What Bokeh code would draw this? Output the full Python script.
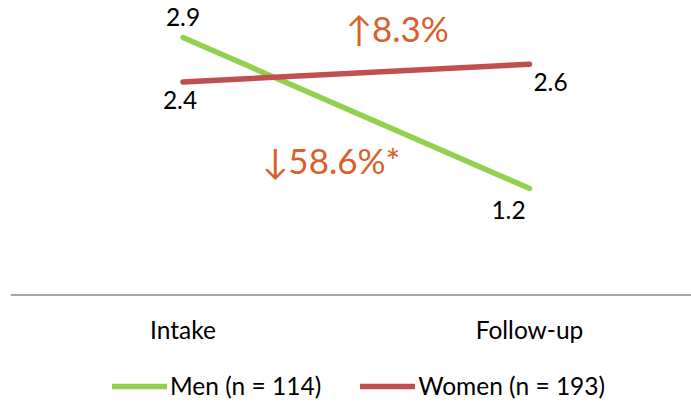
from bokeh.plotting import figure
from bokeh.models import Range1d, Legend, LegendItem, Span
from bokeh.embed import file_html
from bokeh.resources import INLINE
from bokeh.core.properties import value

# ---- data ----
categories = ["Intake", "Follow-up"]
men = [2.9, 1.2]
women = [2.4, 2.6]
men_label = "Men (n = 114)"
women_label = "Women (n = 193)"
men_significant = True
women_significant = False

FONT = "Lato"
GREEN = "#92D050"
RED = "#C0504D"
ORANGE = "#D9602A"
AXIS_GREY = "#868686"
LABEL_SIZE = "24.5px"
ANNOT_SIZE = "35px"

xs = list(range(len(categories)))

p = figure(width=691, height=402, output_backend="svg", toolbar_location=None,
           x_range=Range1d(-0.4978, 1.4675), y_range=Range1d(-1.2104, 3.3167),
           x_axis_location=None, y_axis_location=None,
           min_border_left=10, min_border_right=0, min_border_top=0, min_border_bottom=0)
p.outline_line_color = None
p.grid.visible = False
p.background_fill_color = "white"
p.border_fill_color = "white"

# category axis baseline at value 0
p.add_layout(Span(location=0, dimension="width", line_color=AXIS_GREY, line_width=1.5))
# category labels
p.text(x=xs, y=[0] * len(xs), text=categories, y_offset=34,
       text_align="center", text_baseline="middle", text_font=value(FONT),
       text_font_size=LABEL_SIZE, text_color="black")

r_men = p.line(xs, men, line_color=GREEN, line_width=5.5, line_cap="round")
r_women = p.line(xs, women, line_color=RED, line_width=5.5, line_cap="round")

# data labels
p.text(x=xs, y=men, text=[f"{v:.1f}" for v in men], x_offset=[0, -21], y_offset=[-21, 22],
       text_align="center", text_baseline="middle", text_font=value(FONT),
       text_font_size=LABEL_SIZE, text_color="black")
p.text(x=xs, y=women, text=[f"{v:.1f}" for v in women], x_offset=[-3, 21], y_offset=[18, 18],
       text_align="center", text_baseline="middle", text_font=value(FONT),
       text_font_size=LABEL_SIZE, text_color="black")

# change annotations
def change_text(vals, sig):
    pct = (vals[-1] - vals[0]) / vals[0] * 100
    arrow = "\u2191" if pct >= 0 else "\u2193"
    return f"{arrow}{abs(pct):.1f}%" + ("*" if sig else "")

mid_x = sum(xs) / len(xs)
p.text(x=[mid_x], y=[sum(women) / len(women)], text=[change_text(women, women_significant)],
       x_offset=41, y_offset=-45, text_align="center", text_baseline="middle",
       text_font=value(FONT), text_font_size=ANNOT_SIZE, text_color=ORANGE)
p.text(x=[mid_x], y=[sum(men) / len(men)], text=[change_text(men, men_significant)],
       x_offset=-25, y_offset=47.5, text_align="center", text_baseline="middle",
       text_font=value(FONT), text_font_size=ANNOT_SIZE, text_color=ORANGE)

legend = Legend(items=[LegendItem(label=men_label, renderers=[r_men]),
                       LegendItem(label=women_label, renderers=[r_women])],
                orientation="horizontal", location=(102, 2),
                glyph_width=55, glyph_height=20, label_standoff=3, spacing=39,
                border_line_color=None, background_fill_alpha=0,
                label_text_font=FONT, label_text_font_size=LABEL_SIZE,
                label_text_color="black", padding=0, margin=0)
p.add_layout(legend, "center")

open("out.html", "w").write(file_html(p, INLINE))
